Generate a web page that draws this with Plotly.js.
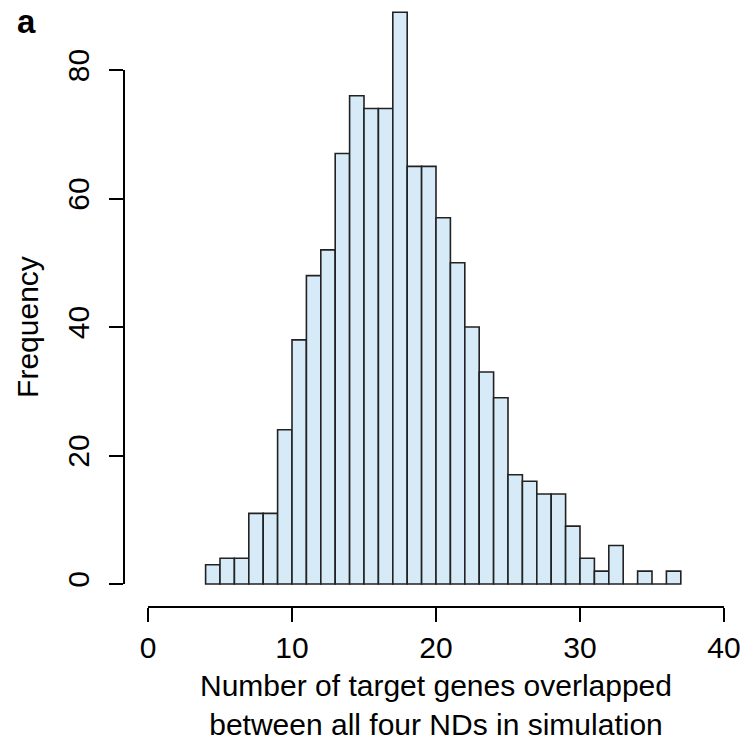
<!DOCTYPE html>
<html>
<head>
<meta charset="utf-8">
<script src="https://cdn.plot.ly/plotly-3.0.1.min.js"></script>
<style>html,body{margin:0;padding:0;background:#fff;}#chart{width:749px;height:741px;}</style>
</head>
<body>
<div id="chart"></div>
<script>
// Histogram bins (left edges, width 1) and counts
const binStart = [4,5,6,7,8,9,10,11,12,13,14,15,16,17,18,19,20,21,22,23,24,25,26,27,28,29,30,31,32,33,34,35,36];
const counts   = [3,4,4,11,11,24,38,48,52,67,76,74,74,89,65,65,57,50,40,33,29,17,16,14,14,9,4,2,6,0,2,0,2];
const xTicks = [0,10,20,30,40];
const yTicks = [0,20,40,60,80];
const xTitle = "Number of target genes overlapped<br>between all four NDs in simulation";
const yTitle = "Frequency";
const panelLabel = "a";

const W = 749, H = 741;
const FONT = "Liberation Sans, Arial, Helvetica, sans-serif";
const FS = 30;
// pixel geometry
const x0px = 148, x40px = 724;       // x = 0 and x = 40
const y0px = 584, y80px = 70;        // y = 0 and y = 80
const pxPerY = (y0px - y80px) / 80;
const xAxisLinePx = 606.5;
const yAxisLinePx = 124;

const bars = {
  type: 'bar',
  x: binStart,
  y: counts,
  width: 1,
  offset: 0,
  xaxis: 'x', yaxis: 'y',
  marker: {color: '#d6eaf8', line: {color: '#222222', width: 1.6}},
  hoverinfo: 'x+y',
  showlegend: false
};
const dummy = {type: 'scatter', x: [null], y: [null], xaxis: 'x', yaxis: 'y2', showlegend: false, hoverinfo: 'skip'};

const layout = {
  width: W, height: H,
  margin: {l: 0, r: 0, t: 0, b: 0},
  paper_bgcolor: '#ffffff', plot_bgcolor: 'rgba(0,0,0,0)',
  showlegend: false,
  font: {family: FONT, color: '#000', size: FS},
  bargap: 0,
  xaxis: {
    domain: [x0px / W, x40px / W],
    range: [0, 40],
    anchor: 'free',
    position: (H - xAxisLinePx) / H,
    showline: true, linecolor: '#000', linewidth: 2,
    ticks: 'outside', ticklen: 14, tickwidth: 2, tickcolor: '#000',
    tickmode: 'array', tickvals: xTicks, ticktext: xTicks.map(String),
    tickfont: {family: FONT, size: FS, color: '#000'},
    showgrid: false, zeroline: false,
    title: {text: xTitle, font: {family: FONT, size: FS, color: '#000'}, standoff: 14}
  },
  yaxis: {
    domain: [0, 1],
    range: [-(H - y0px) / pxPerY, y0px / pxPerY],
    visible: false, showgrid: false, zeroline: false
  },
  yaxis2: {
    domain: [(H - y0px) / H, (H - y80px) / H],
    range: [0, 80],
    anchor: 'free',
    position: yAxisLinePx / W,
    side: 'left',
    showline: true, linecolor: '#000', linewidth: 2,
    ticks: 'outside', ticklen: 14, tickwidth: 2, tickcolor: '#000',
    tickmode: 'array', tickvals: yTicks, ticktext: yTicks.map(String),
    tickangle: -90,
    ticklabelstandoff: 8,
    tickfont: {family: FONT, size: FS, color: '#000'},
    showgrid: false, zeroline: false,
    title: {text: yTitle, font: {family: FONT, size: FS, color: '#000'}, standoff: 14}
  },
  annotations: [{
    text: '<b>' + panelLabel + '</b>',
    xref: 'paper', yref: 'paper',
    x: 26 / W, y: 1 - 22 / H,
    xanchor: 'center', yanchor: 'middle',
    showarrow: false,
    font: {family: FONT, size: 33, color: '#000'}
  }]
};

Plotly.newPlot('chart', [bars, dummy], layout, {displayModeBar: false, staticPlot: true});
</script>
</body>
</html>
